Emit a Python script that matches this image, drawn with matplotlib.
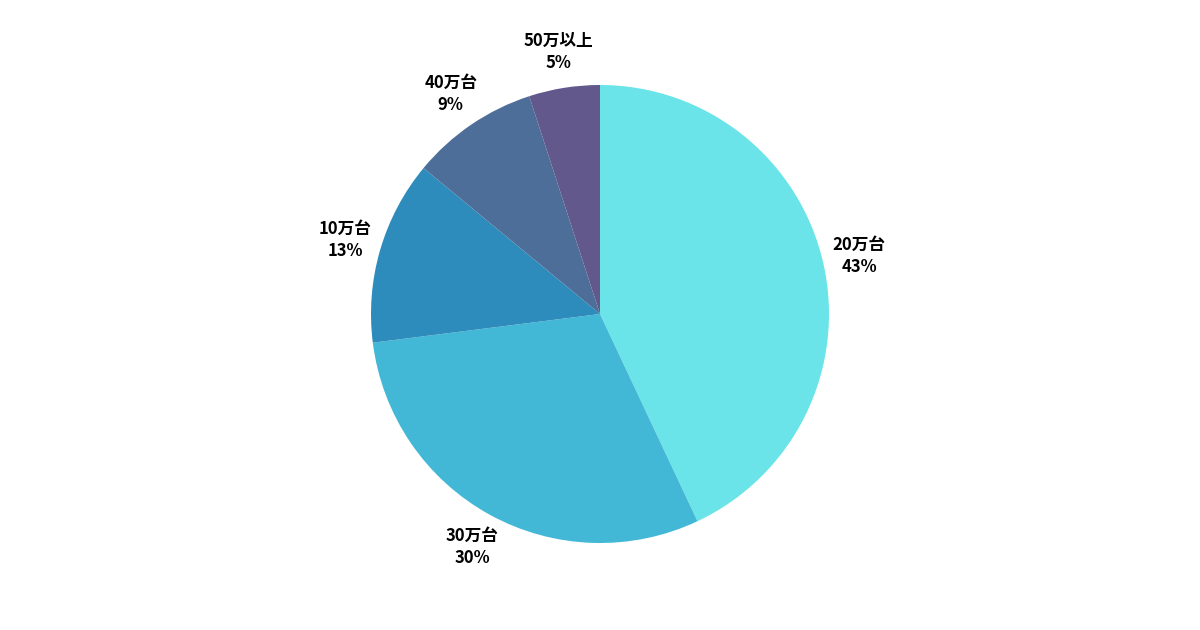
import matplotlib
matplotlib.use("Agg")
import matplotlib.pyplot as plt

labels = ["20万台", "30万台", "10万台", "40万台", "50万以上"]
values = [43, 30, 13, 9, 5]
colors = ["#6ae4e8", "#42b8d6", "#2e8cbc", "#4d6e99", "#63588c"]

plt.rcParams['font.family'] = ['Noto Sans CJK JP', 'DejaVu Sans']
fig = plt.figure(figsize=(12, 6.3), dpi=100)
ax = fig.add_axes([371/1200, 87/630, 458/1200, 458/630])
ax.pie(values, colors=colors, startangle=90, counterclock=False, radius=1,
       labels=[f"{l}\n{v}%" for l, v in zip(labels, values)], labeldistance=1.16,
       textprops=dict(fontsize=12, fontweight='bold', ha='center', va='center', linespacing=1.3),
       wedgeprops=dict(linewidth=0))
for t in ax.texts:
    t.set_ha('center')
ax.set_xlim(-1, 1); ax.set_ylim(-1, 1)
ax.set_aspect('equal')
fig.savefig("out.png", dpi=100, facecolor="white")
